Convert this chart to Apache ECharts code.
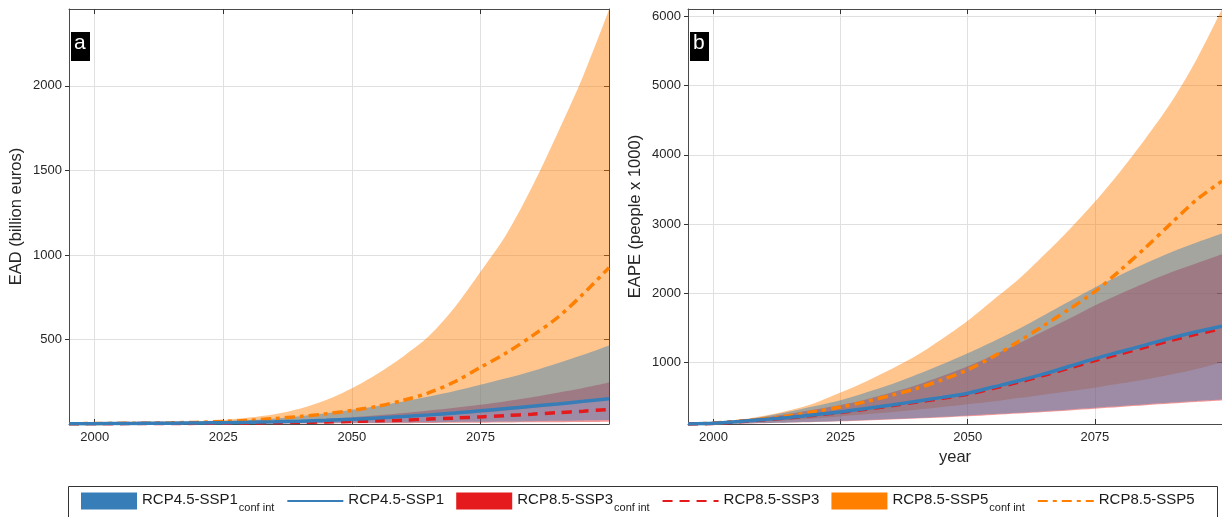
<!DOCTYPE html>
<html><head><meta charset="utf-8">
<script src="https://cdn.jsdelivr.net/npm/echarts@6/dist/echarts.min.js"></script>
<style>html,body{margin:0;padding:0;background:#fff}#c{width:1222px;height:517px}</style>
</head><body><div id="c"></div>
<script>
// ---------- data ----------
const years = [1995,2000,2005,2010,2015,2020,2025,2030,2035,2040,2045,2050,2055,2060,2065,2070,2075,2080,2085,2090,2095,2100];
const xTicks = [2000, 2025, 2050, 2075];
const yTicksA = [500, 1000, 1500, 2000];
const yTicksB = [1000, 2000, 3000, 4000, 5000, 6000];

// Panel a: EAD (billion euros)
const a_ssp5_up  = [2,4,6,8,11,16,24,38,58,92,142,212,298,400,520,690,900,1120,1400,1720,2060,2450];
const a_ssp5_med = [1,3,4,5,7,10,15,22,32,45,60,80,105,140,185,250,335,420,520,630,770,925];
const a_ssp5_lo  = [1,2,2,3,4,5,7,9,12,15,19,24,30,37,45,55,66,79,94,110,128,148];
const a_ssp3_up  = [2,3,4,5,6,8,10,13,17,23,30,40,52,65,80,96,114,135,158,185,213,245];
const a_ssp3_med = [1,2,2,3,3,4,5,6,8,10,12,15,19,23,29,35,42,50,58,67,76,86];
const a_ssp3_lo  = [0,1,1,1,1,1,2,2,2,3,3,4,4,5,6,7,8,9,10,11,12,14];
const a_ssp1_up  = [2,3,4,6,8,11,16,23,33,46,63,84,107,133,162,195,232,270,312,360,410,465];
const a_ssp1_med = [1,2,3,4,5,6,8,10,13,17,22,28,35,44,54,65,78,91,105,119,134,150];
const a_ssp1_lo  = [1,1,1,2,2,2,3,3,4,5,6,7,8,9,10,12,13,15,17,19,21,23];

// Panel b: EAPE (people x 1000)
const b_ssp5_up  = [105,125,165,225,305,410,560,720,900,1100,1340,1600,1900,2200,2550,2920,3320,3760,4240,4760,5380,6110];
const b_ssp5_med = [105,118,145,180,225,285,350,430,520,620,745,890,1080,1300,1530,1770,2020,2330,2660,3010,3350,3620];
const b_ssp5_lo  = [105,112,125,140,160,185,215,245,275,310,350,390,430,480,530,580,630,690,750,820,900,1000];
const b_ssp3_up  = [105,120,155,200,255,315,380,460,560,670,800,940,1100,1270,1450,1630,1820,1990,2150,2300,2430,2560];
const b_ssp3_med = [105,114,137,165,195,233,272,320,370,422,477,535,620,710,808,915,1022,1120,1218,1315,1405,1485];
const b_ssp3_lo  = [105,107,111,117,125,134,145,157,170,184,200,217,236,256,278,302,327,352,377,402,425,446];
const b_ssp1_up  = [105,122,160,215,285,365,450,560,680,820,970,1130,1300,1480,1680,1880,2080,2260,2430,2590,2730,2860];
const b_ssp1_med = [105,115,140,170,200,240,280,330,380,435,490,550,640,730,830,940,1050,1150,1250,1350,1440,1520];
const b_ssp1_lo  = [105,108,113,120,128,138,150,163,177,192,210,228,248,268,290,315,340,365,390,415,438,458];

const legendNames = ['RCP4.5-SSP1 conf int','RCP4.5-SSP1','RCP8.5-SSP3 conf int','RCP8.5-SSP3','RCP8.5-SSP5 conf int','RCP8.5-SSP5'];

// ---------- styling ----------
const C1 = '#377eb8', C3 = '#e41a1c', C5 = '#ff7f00';
const FONT = 'Liberation Sans, Arial, Helvetica, sans-serif';
const AX = '#4a4a4a';
const cats = years.map(String);
const isTick = (i, v) => xTicks.indexOf(+v) >= 0;

function diffs(up, lo){ return up.map((u,i)=>u - lo[i]); }

function band(p, key, lo, up, name, color){
  const stack = 'band_' + key + '_' + p;
  return [
    {type:'line', name:'_lo_'+key+p, xAxisIndex:p*2, yAxisIndex:p*2, stack, data:lo.slice(),
     symbol:'none', smooth:0.3, lineStyle:{opacity:0, width:0}, silent:true},
    {type:'line', name, xAxisIndex:p*2, yAxisIndex:p*2, stack, data:diffs(up, lo),
     symbol:'none', smooth:0.3, lineStyle:{opacity:0, width:0},
     itemStyle:{color}, areaStyle:{color, opacity:0.45}, silent:true}
  ];
}
function med(p, arr, name, color, type){
  return {type:'line', name, xAxisIndex:p*2, yAxisIndex:p*2, data:arr.slice(), symbol:'none',
    smooth:0.3, itemStyle:{color}, lineStyle:{color, width:3.5, type}, silent:true};
}
function panelSeries(p, d){
  return [].concat(
    band(p, 's5', d.s5lo, d.s5up, legendNames[4], C5),
    [med(p, d.s5med, legendNames[5], C5, [10,5,4,5])],
    band(p, 's3', d.s3lo, d.s3up, legendNames[2], C3),
    [med(p, d.s3med, legendNames[3], C3, [10,7])],
    band(p, 's1', d.s1lo, d.s1up, legendNames[0], C1),
    [med(p, d.s1med, legendNames[1], C1, 'solid')]
  );
}

function xAxes(grid, extra){
  const base = {type:'category', data:cats, boundaryGap:false, gridIndex:grid,
    axisLine:{show:true, onZero:false, lineStyle:{color:AX, width:1}},
    axisTick:{show:true, inside:true, length:5, interval:isTick, lineStyle:{color:'#333'}}};
  return [
    Object.assign({}, base, {position:'bottom',
      axisLabel:{show:true, interval:isTick, fontSize:13, color:'#262626', fontFamily:FONT, margin:7},
      splitLine:{show:true, interval:isTick, lineStyle:{color:'#e0e0e0', width:1}}}, extra || {}),
    Object.assign({}, base, {position:'top', axisLabel:{show:false}, splitLine:{show:false}})
  ];
}
function yAxes(grid, min, max, ticks, name){
  const base = {type:'value', gridIndex:grid, min, max,
    axisLine:{show:true, onZero:false, lineStyle:{color:AX, width:1}}};
  return [
    Object.assign({}, base, {position:'left', name, nameLocation:'middle', nameGap:44, nameRotate:90,
      nameTextStyle:{fontSize:16.5, color:'#262626', fontFamily:FONT},
      axisTick:{show:true, inside:false, length:4, customValues:ticks, lineStyle:{color:'#333'}},
      axisLabel:{show:true, customValues:ticks, fontSize:13, color:'#262626', fontFamily:FONT, margin:7,
        formatter:(v)=>String(v)},
      splitLine:{show:true, lineStyle:{color:'#e0e0e0', width:1}}}),
    Object.assign({}, base, {position:'right',
      axisTick:{show:true, inside:true, length:5, customValues:ticks, lineStyle:{color:'#333'}},
      axisLabel:{show:false}, splitLine:{show:false}})
  ];
}

const series = [].concat(
  panelSeries(0, {s5up:a_ssp5_up, s5med:a_ssp5_med, s5lo:a_ssp5_lo, s3up:a_ssp3_up, s3med:a_ssp3_med, s3lo:a_ssp3_lo, s1up:a_ssp1_up, s1med:a_ssp1_med, s1lo:a_ssp1_lo}),
  panelSeries(1, {s5up:b_ssp5_up, s5med:b_ssp5_med, s5lo:b_ssp5_lo, s3up:b_ssp3_up, s3med:b_ssp3_med, s3lo:b_ssp3_lo, s1up:b_ssp1_up, s1med:b_ssp1_med, s1lo:b_ssp1_lo})
);

const chart = echarts.init(document.getElementById('c'), null, {renderer:'canvas'});
chart.setOption({
  animation:false,
  backgroundColor:'#ffffff',
  textStyle:{fontFamily:FONT},
  grid:[
    {left:69, top:9, width:540, height:415},
    {left:688, top:9, width:542, height:415}
  ],
  xAxis:[].concat(xAxes(0), xAxes(1, {name:'year', nameLocation:'middle', nameGap:20,
      nameTextStyle:{fontSize:16.5, color:'#262626', fontFamily:FONT}})),
  yAxis:[].concat(yAxes(0, 0, 2455, yTicksA, 'EAD (billion euros)'),
                  yAxes(1, 105, 6110, yTicksB, 'EAPE (people x 1000)')),
  legend:{
    left:68, top:486, orient:'horizontal',
    padding:[6, 10, 12, 13], itemGap:12, itemWidth:56, itemHeight:17,
    borderWidth:0, selectedMode:false,
    data:[
      {name:legendNames[0], icon:'rect'},
      {name:legendNames[1], itemStyle:{opacity:0}},
      {name:legendNames[2], icon:'rect'},
      {name:legendNames[3], itemStyle:{opacity:0}},
      {name:legendNames[4], icon:'rect'},
      {name:legendNames[5], itemStyle:{opacity:0}}
    ],
    textStyle:{fontFamily:FONT, fontSize:15, color:'#1a1a1a',
      rich:{
        m:{fontSize:15, fontFamily:FONT, color:'#1a1a1a', verticalAlign:'top', lineHeight:18},
        s:{fontSize:11, fontFamily:FONT, color:'#1a1a1a', verticalAlign:'top', lineHeight:12, padding:[10,0,0,1]}
      }},
    formatter:function(name){
      const k = name.indexOf(' conf int');
      if (k >= 0) return '{m|' + name.slice(0,k) + '}{s|conf int}';
      return '{m|' + name + '}';
    }
  },
  graphic:[
    {type:'rect', shape:{x:68.5, y:486.5, width:1149, height:44}, style:{fill:null, stroke:'#333', lineWidth:1}, z:0, silent:true},
    {type:'rect', left:71, top:32, shape:{width:19, height:29}, style:{fill:'#000'}, z:100},
    {type:'text', left:74, top:33, style:{text:'a', fill:'#fff', fontSize:21, fontFamily:FONT}, z:101},
    {type:'rect', left:690, top:32, shape:{width:19, height:29}, style:{fill:'#000'}, z:100},
    {type:'text', left:693, top:33, style:{text:'b', fill:'#fff', fontSize:21, fontFamily:FONT}, z:101}
  ],
  series
});
</script></body></html>
